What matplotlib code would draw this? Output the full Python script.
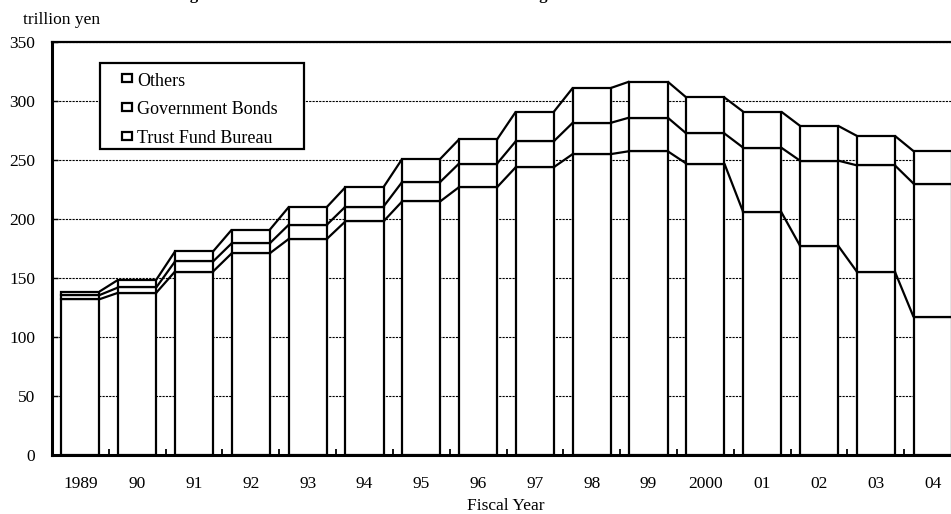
import matplotlib
matplotlib.use("Agg")
import matplotlib.pyplot as plt
from matplotlib.patches import Rectangle
import numpy as np

years = ["1989", "90", "91", "92", "93", "94", "95", "96", "97", "98", "99",
         "2000", "01", "02", "03", "04"]
# cumulative levels (trillion yen)
trust_fund = [132, 137.5, 155.5, 171, 183, 198, 215, 227, 244, 255, 257.5,
              247, 206, 177.5, 155.5, 117]
tfb_plus_bonds = [135.5, 142, 164, 179.5, 195, 210.5, 231.5, 247, 266, 281.5,
                  286, 272.5, 260.5, 249.5, 245.5, 230]
total = [138.5, 148.5, 172.5, 191, 210, 227, 251, 267.5, 291, 311, 316.5,
         303, 291, 279, 270.5, 257.5]
legend_labels = ["Others", "Government Bonds", "Trust Fund Bureau"]

gov_bonds = [b - a for a, b in zip(trust_fund, tfb_plus_bonds)]
others = [c - b for b, c in zip(tfb_plus_bonds, total)]
yticks = [0, 50, 100, 150, 200, 250, 300, 350]

plt.rcParams['font.family'] = ['Liberation Serif', 'DejaVu Serif']

W, H = 951, 514
fig = plt.figure(figsize=(W / 100, H / 100), dpi=100)
ax = fig.add_axes([52 / W, (H - 455) / H, (961 - 52) / W, (455 - 42) / H])

x = np.arange(len(years))
bw = 0.67
lw = 1.6
ax.bar(x, trust_fund, width=bw, color='white', edgecolor='black', linewidth=lw, zorder=3)
ax.bar(x, gov_bonds, width=bw, bottom=trust_fund, color='white', edgecolor='black', linewidth=lw, zorder=3)
ax.bar(x, others, width=bw, bottom=tfb_plus_bonds, color='white', edgecolor='black', linewidth=lw, zorder=3)

# series lines connecting bars
for level in (trust_fund, tfb_plus_bonds, total):
    for i in range(len(x) - 1):
        ax.plot([x[i] + bw / 2, x[i + 1] - bw / 2], [level[i], level[i + 1]],
                color='black', linewidth=lw, zorder=4, solid_capstyle='butt')

ax.set_xlim(-0.5, len(years) - 0.5)
ax.set_ylim(0, 350)
ax.set_yticks(yticks)
ax.set_yticklabels([str(v) for v in yticks], fontsize=12.5)
ax.yaxis.grid(True, linestyle=(0, (2, 1)), color='black', linewidth=0.8, zorder=0)
ax.set_axisbelow(True)

ax.set_xticks(x)
ax.set_xticklabels(years, fontsize=12.5)
ax.set_xticks(np.arange(0.5, len(years) - 0.5, 1), minor=True)
ax.tick_params(axis='x', which='major', length=0, pad=15)
ax.tick_params(axis='x', which='minor', length=4, direction='in', width=1.3)
ax.tick_params(axis='y', length=4, direction='in', width=1.0, pad=12)

for s in ('left', 'bottom'):
    ax.spines[s].set_linewidth(2.2)
ax.spines['top'].set_linewidth(1.6)
ax.spines['right'].set_linewidth(1.6)

fig.text(506 / W, 1 - 510 / H, "Fiscal Year", fontsize=12.5, ha='center', va='baseline')
fig.text(23 / W, 1 - 20 / H, "trillion yen", fontsize=12.5, ha='left', va='center')

# Title, clipped by the top edge of the picture
fig.text(357 / W, 1 + 1 / H, "Funding Sources of the Fiscal Investment and Loan Program",
         fontsize=12.2, fontweight='bold', ha='center', va='baseline')

# legend box drawn in figure pixels
def fx(px):
    return px / W

def fy(py):
    return 1 - py / H

fig.patches.append(Rectangle((fx(100), fy(149)), fx(304) - fx(100), fy(63) - fy(149),
                             transform=fig.transFigure, facecolor='white',
                             edgecolor='black', linewidth=1.6, zorder=10))
rows = [81, 110, 139]
for lab, ry in zip(legend_labels, rows):
    fig.patches.append(Rectangle((fx(122), fy(ry + 1)), fx(132) - fx(122), fy(ry - 7) - fy(ry + 1),
                                 transform=fig.transFigure, facecolor='white',
                                 edgecolor='black', linewidth=1.6, zorder=11))
    fig.text(fx(137), fy(ry), lab, fontsize=13, ha='left', va='center', zorder=12)

fig.savefig("out.png", dpi=100)
